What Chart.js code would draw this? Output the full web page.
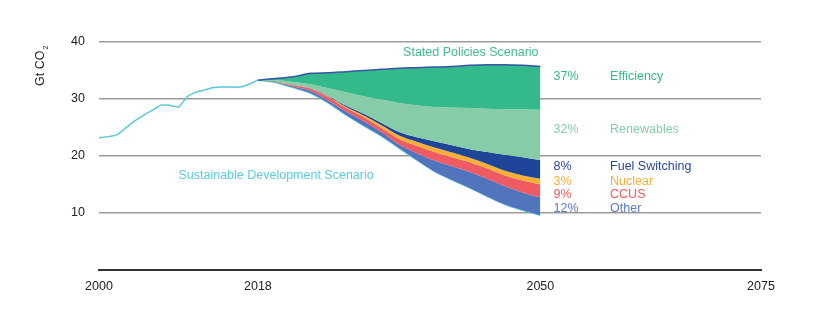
<!DOCTYPE html>
<html>
<head>
<meta charset="utf-8">
<script src="https://cdn.jsdelivr.net/npm/chart.js@4"></script>
<style>
    html, body { margin: 0; padding: 0; background: #fff; }
    .chart-container { position: relative; width: 831px; height: 321px; }
</style>
</head>
<body>
<div class="chart-container"><canvas id="emissions"></canvas></div>
<script>
// historical emissions, Gt CO2
const historyYears = [2000, 2001, 2002, 2003, 2004, 2005, 2006, 2007, 2008, 2009, 2010, 2011, 2012, 2013, 2014, 2015, 2016, 2017, 2018];
const historyValues = [23.2, 23.4, 23.7, 24.9, 26.1, 27.1, 28.0, 28.9, 28.9, 28.6, 30.4, 31.2, 31.6, 32.0, 32.1, 32.1, 32.1, 32.6, 33.3];

// scenario boundaries 2018-2050 (top of each wedge down to SDS path)
const scenarioYears = [2018, 2020, 2022, 2024, 2026, 2028, 2030, 2032, 2034, 2036, 2038, 2040, 2042, 2044, 2046, 2048, 2050];
const statedPolicies = [33.3, 33.6, 33.9, 34.5, 34.6, 34.8, 35.0, 35.2, 35.4, 35.5, 35.6, 35.7, 35.9, 36.0, 36.0, 35.9, 35.7];
const efficiencyBottom = [33.3, 33.3, 33.0, 32.6, 31.9, 31.2, 30.5, 29.9, 29.3, 28.9, 28.6, 28.5, 28.4, 28.3, 28.2, 28.2, 28.1];
const renewablesBottom = [33.3, 33.1, 32.5, 31.9, 30.5, 28.8, 27.4, 25.8, 24.2, 23.3, 22.6, 21.9, 21.2, 20.7, 20.2, 19.8, 19.3];
const fuelSwitchBottom = [33.3, 33.05, 32.45, 31.85, 30.4, 28.6, 27.1, 25.4, 23.6, 22.5, 21.5, 20.6, 19.7, 18.6, 17.4, 16.6, 16.0];
const nuclearBottom = [33.3, 33.0, 32.4, 31.8, 30.3, 28.4, 26.8, 24.9, 23.0, 21.8, 20.7, 19.8, 18.9, 17.8, 16.6, 15.7, 15.0];
const ccusBottom = [33.3, 32.95, 32.2, 31.4, 29.7, 27.8, 26.1, 24.2, 22.0, 20.5, 19.2, 18.2, 17.2, 16.0, 14.7, 13.6, 12.7];
const sustainableDev = [33.3, 32.9, 32.0, 31.0, 29.3, 27.2, 25.3, 23.5, 21.4, 19.3, 17.3, 15.8, 14.4, 12.9, 11.5, 10.5, 9.6];

const xTicks = [2000, 2018, 2050, 2075];
const yTicks = [10, 20, 30, 40];

const wedgeNames = ["Efficiency", "Renewables", "Fuel Switching", "Nuclear", "CCUS", "Other"];
const wedgeShares = ["37%", "32%", "8%", "3%", "9%", "12%"];

const FONT = "'Liberation Sans', Arial, sans-serif";
const wedgeColors = ["#34B98A", "#86CCA9", "#1E4597", "#FAB034", "#EF5B62", "#5174BC"];
const textColors = ["#35B98B", "#86CCA9", "#27479A", "#F8B033", "#EE5A61", "#5A7BC0"];
// label anchors in data units (Gt)
const labelYs = [33.9, 24.6, 18.1, 15.6, 13.2, 10.7];

const toPoints = (xs, ys) => xs.map((x, i) => ({ x, y: ys[i] }));

const annotationPlugin = {
    id: "annotations",
    afterDatasetsDraw(chart) {
        const { ctx, scales } = chart;
        const x = scales.x, y = scales.y;
        ctx.save();
        ctx.font = `12.5px ${FONT}`;
        ctx.textBaseline = "middle";

        // wedge legend on the right
        wedgeNames.forEach((name, i) => {
            const py = y.getPixelForValue(labelYs[i]);
            ctx.fillStyle = textColors[i];
            ctx.textAlign = "left";
            ctx.fillText(wedgeShares[i], x.getPixelForValue(2051.5), py);
            ctx.fillText(name, x.getPixelForValue(2057.9), py);
        });

        ctx.fillStyle = "#3FBC8E";
        ctx.textAlign = "right";
        ctx.fillText("Stated Policies Scenario", x.getPixelForValue(2049.8), y.getPixelForValue(38.2));

        ctx.fillStyle = "#5CCAD8";
        ctx.textAlign = "left";
        ctx.fillText("Sustainable Development Scenario", x.getPixelForValue(2009.0), y.getPixelForValue(16.5));

        // y axis title, rotated, with subscript
        ctx.translate(41, 86);
        ctx.rotate(-Math.PI / 2);
        ctx.fillStyle = "#222";
        ctx.textAlign = "left";
        ctx.font = `12.5px ${FONT}`;
        ctx.fillText("Gt CO", 0, 0);
        const w = ctx.measureText("Gt CO").width;
        ctx.font = `7px ${FONT}`;
        ctx.fillText("2", w + 1, 5);
        ctx.restore();
    },
};

const wedge = (i, values) => ({
    label: wedgeNames[i],
    data: toPoints(scenarioYears, values),
    borderWidth: 0,
    backgroundColor: wedgeColors[i],
    pointRadius: 0,
    cubicInterpolationMode: "monotone",
    fill: "+1",
});

const ctx = document.getElementById("emissions").getContext("2d");

new Chart(ctx, {
    type: "line",
    data: {
        datasets: [
            {
                label: "History",
                data: toPoints(historyYears, historyValues),
                borderColor: "#5BC8D6",
                borderWidth: 1.5,
                pointRadius: 0,
                fill: false,
                tension: 0.2,
            },
            {
                ...wedge(0, statedPolicies),
                borderColor: "#3657A6",
                borderWidth: 1.5,
            },
            wedge(1, efficiencyBottom),
            wedge(2, renewablesBottom),
            wedge(3, fuelSwitchBottom),
            wedge(4, nuclearBottom),
            wedge(5, ccusBottom),
            {
                label: "Sustainable Development Scenario",
                data: toPoints(scenarioYears, sustainableDev),
                borderColor: "#5BC8D6",
                borderWidth: 1.5,
                pointRadius: 0,
                cubicInterpolationMode: "monotone",
                fill: false,
            },
        ],
    },
    options: {
        responsive: true,
        maintainAspectRatio: false,
        animation: false,
        layout: { padding: { left: 0, right: 70, top: 42, bottom: 0 } },
        plugins: {
            legend: { display: false },
            tooltip: { enabled: false },
        },
        scales: {
            x: {
                type: "linear",
                min: 2000,
                max: 2075,
                afterBuildTicks: (scale) => {
                    scale.ticks = xTicks.map((v) => ({ value: v }));
                },
                afterFit: (scale) => {
                    scale.height = 51;
                },
                ticks: {
                    autoSkip: false,
                    maxRotation: 0,
                    padding: 9,
                    color: "#222",
                    font: { family: FONT, size: 12.5 },
                    callback: (v) => String(v),
                },
                grid: { display: false, drawTicks: false },
                border: { display: true, color: "#333", width: 2 },
            },
            y: {
                min: 0,
                max: 40,
                afterBuildTicks: (scale) => {
                    scale.ticks = yTicks.map((v) => ({ value: v }));
                },
                afterFit: (scale) => {
                    scale.width = 99;
                },
                ticks: {
                    padding: 14,
                    color: "#222",
                    font: { family: FONT, size: 12.5 },
                },
                grid: { color: "#9B9B9B", lineWidth: 1.5, drawTicks: false },
                border: { display: false },
            },
        },
    },
    plugins: [annotationPlugin],
});
</script>
</body>
</html>
